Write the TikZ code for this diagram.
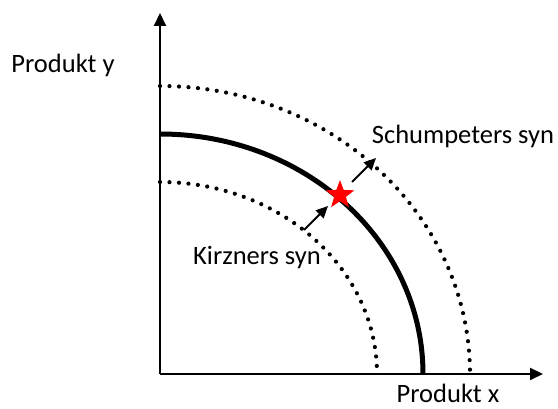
\documentclass[tikz,border=0pt]{standalone}
\usepackage{fontspec}
\setmainfont{Carlito}
\usetikzlibrary{arrows.meta,shapes.geometric}

\begin{document}
\begin{tikzpicture}[x=1pt, y=1pt,
        axis/.style={line width=2pt, -{Triangle[length=13pt, width=12pt]}},
        frontier/.style={line width=5pt},
        dotline/.style={line width=4.2pt, line cap=round,
                        dash pattern=on 0pt off 9.5pt},
        moveto/.style={line width=2pt, -{Triangle[length=12pt, width=11pt]}},
        lbl/.style={font=\fontsize{26.5}{30}\selectfont, anchor=base, inner sep=0pt}
    ]
    \useasboundingbox (0, 0) rectangle (558, 409);

    % Axes
    \coordinate (origin) at (160, 35);
    \coordinate (ytop) at (160, 396);
    \coordinate (xend) at (543, 35);
    \draw[axis] (origin) -- (ytop);
    \draw[axis] (origin) -- (xend);

    % ---- Frontiers ----
    \draw[dotline] (160, 323) arc[start angle=90, end angle=0,
                                  x radius=310, y radius=288];
    \draw[frontier] (160, 275) arc[start angle=90, end angle=0,
                                   x radius=263, y radius=240];
    \draw[dotline] (160, 227) arc[start angle=90, end angle=0,
                                  x radius=217, y radius=192];

    % ---- Star and shifts ----
    \node[star, star points=5, star point ratio=2.4, fill=red,
          minimum size=30pt, inner sep=0pt] (eq) at (340, 214) {};
    \coordinate (kin) at (304, 179);
    \coordinate (kout) at (328, 203);
    \coordinate (sin) at (352, 227);
    \coordinate (sout) at (376, 251);
    \draw[moveto] (kin) -- (kout);
    \draw[moveto] (sin) -- (sout);

    % ---- Labels ----
    \node[lbl] (prody) at (63, 336) {Produkt y};
    \node[lbl] (prodx) at (448, 6) {Produkt x};
    \node[lbl] (schump) at (463, 265) {Schumpeters syn};
    \node[lbl] (kirz) at (257, 144) {Kirzners syn};
\end{tikzpicture}
\end{document}
